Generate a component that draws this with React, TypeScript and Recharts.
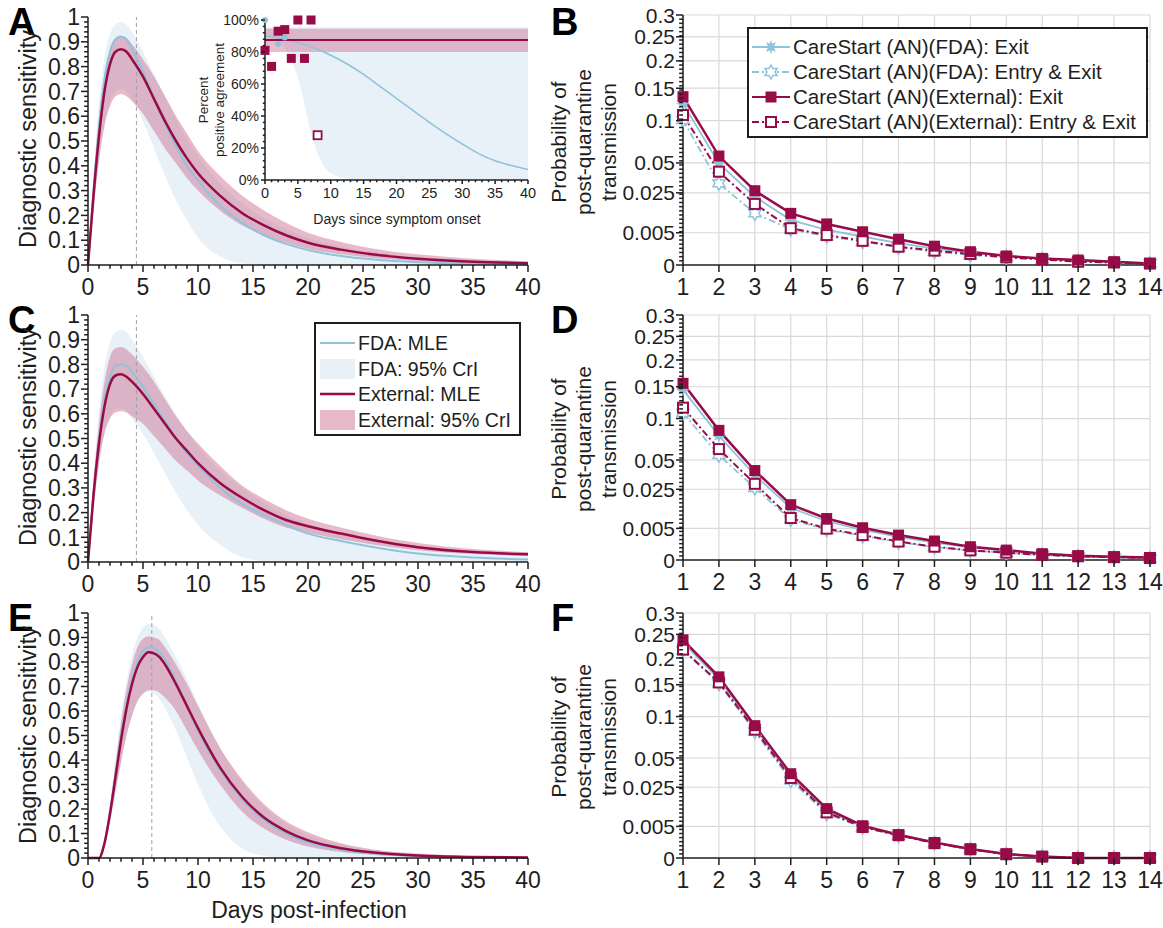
import React from 'react';
import { ComposedChart, LineChart, Line, Area, XAxis, YAxis, CartesianGrid, ReferenceLine } from 'recharts';

const FONT = '"Liberation Sans", Arial, Helvetica, sans-serif';
const INK = '#1e1e1e';
const BLUE = '#8fc3db';
const RED = '#990b46';
const BLUE_FILL = '#bcd8ec';
const RED_FILL = '#cc6f91';
const GRID = '#d9d9d9';

// ---- sensitivity panels A / C (days post-infection) ----
const daysAC = [0, 0.5, 1, 1.5, 2, 2.5, 3, 3.5, 4, 5, 6, 7, 8, 9, 10, 12, 14, 16, 18, 20, 23, 26, 30, 35, 40];

const aFdaMle = [0, 0.3, 0.56, 0.75, 0.86, 0.91, 0.92, 0.91, 0.87, 0.78, 0.67, 0.57, 0.48, 0.4, 0.34, 0.24, 0.17, 0.12, 0.085, 0.06, 0.036, 0.022, 0.011, 0.005, 0.002];
const aFdaLo = [0, 0.22, 0.42, 0.57, 0.66, 0.7, 0.71, 0.7, 0.67, 0.58, 0.47, 0.36, 0.26, 0.18, 0.11, 0.035, 0.006, 0, 0, 0, 0, 0, 0, 0, 0];
const aFdaHi = [0, 0.36, 0.65, 0.84, 0.93, 0.97, 0.98, 0.97, 0.94, 0.86, 0.77, 0.68, 0.59, 0.51, 0.44, 0.33, 0.25, 0.19, 0.145, 0.11, 0.075, 0.052, 0.032, 0.018, 0.01];
const aExtMle = [0, 0.28, 0.52, 0.7, 0.81, 0.86, 0.87, 0.86, 0.83, 0.76, 0.67, 0.58, 0.5, 0.43, 0.37, 0.28, 0.21, 0.16, 0.12, 0.09, 0.062, 0.042, 0.025, 0.013, 0.007];
const aExtLo = [0, 0.22, 0.42, 0.56, 0.64, 0.68, 0.69, 0.68, 0.66, 0.61, 0.54, 0.47, 0.41, 0.35, 0.3, 0.22, 0.16, 0.12, 0.09, 0.065, 0.043, 0.028, 0.015, 0.007, 0.003];
const aExtHi = [0, 0.32, 0.59, 0.77, 0.87, 0.915, 0.925, 0.915, 0.89, 0.83, 0.76, 0.68, 0.6, 0.53, 0.46, 0.36, 0.28, 0.22, 0.17, 0.13, 0.093, 0.066, 0.043, 0.025, 0.015];

const cFdaMle = [0, 0.28, 0.5, 0.66, 0.75, 0.795, 0.8, 0.795, 0.77, 0.71, 0.64, 0.57, 0.5, 0.44, 0.39, 0.3, 0.235, 0.19, 0.15, 0.115, 0.085, 0.06, 0.034, 0.018, 0.01];
const cFdaLo = [0, 0.21, 0.39, 0.52, 0.59, 0.62, 0.62, 0.61, 0.58, 0.52, 0.44, 0.36, 0.28, 0.21, 0.15, 0.07, 0.02, 0.003, 0, 0, 0, 0, 0, 0, 0];
const cFdaHi = [0, 0.34, 0.61, 0.79, 0.89, 0.93, 0.94, 0.93, 0.9, 0.83, 0.75, 0.67, 0.6, 0.53, 0.47, 0.37, 0.3, 0.24, 0.19, 0.155, 0.115, 0.085, 0.058, 0.037, 0.027];
const cExtMle = [0, 0.27, 0.48, 0.63, 0.72, 0.755, 0.76, 0.75, 0.73, 0.68, 0.62, 0.56, 0.5, 0.45, 0.4, 0.32, 0.26, 0.21, 0.17, 0.145, 0.115, 0.088, 0.06, 0.04, 0.031];
const cExtLo = [0, 0.22, 0.4, 0.52, 0.58, 0.605, 0.61, 0.605, 0.59, 0.56, 0.51, 0.46, 0.41, 0.37, 0.33, 0.27, 0.22, 0.175, 0.14, 0.118, 0.092, 0.07, 0.048, 0.032, 0.024];
const cExtHi = [0, 0.32, 0.56, 0.73, 0.83, 0.865, 0.87, 0.86, 0.84, 0.79, 0.73, 0.66, 0.59, 0.53, 0.48, 0.39, 0.31, 0.255, 0.21, 0.175, 0.14, 0.108, 0.077, 0.053, 0.04];

// ---- sensitivity panel E ----
const daysE = [0, 0.5, 1, 1.5, 2, 2.5, 3, 3.5, 4, 4.5, 5, 5.5, 6, 6.5, 7, 8, 9, 10, 12, 14, 16, 18, 20, 23, 26, 30, 35, 40];
const eFdaMle = [0, 0, 0, 0.06, 0.19, 0.34, 0.5, 0.63, 0.73, 0.8, 0.845, 0.86, 0.855, 0.84, 0.81, 0.72, 0.62, 0.52, 0.36, 0.24, 0.155, 0.1, 0.064, 0.034, 0.018, 0.008, 0.003, 0.001];
const eFdaLo = [0, 0, 0, 0.05, 0.15, 0.27, 0.39, 0.5, 0.58, 0.64, 0.67, 0.68, 0.67, 0.65, 0.61, 0.52, 0.41, 0.3, 0.13, 0.04, 0.008, 0, 0, 0, 0, 0, 0, 0];
const eFdaHi = [0, 0, 0, 0.08, 0.23, 0.41, 0.58, 0.72, 0.83, 0.9, 0.94, 0.955, 0.95, 0.935, 0.9, 0.82, 0.73, 0.63, 0.45, 0.31, 0.21, 0.14, 0.095, 0.055, 0.03, 0.015, 0.006, 0.003];
const eExtMle = [0, 0, 0, 0.06, 0.18, 0.33, 0.48, 0.61, 0.71, 0.78, 0.82, 0.84, 0.835, 0.82, 0.79, 0.71, 0.62, 0.53, 0.37, 0.25, 0.165, 0.11, 0.072, 0.04, 0.022, 0.01, 0.004, 0.002];
const eExtLo = [0, 0, 0, 0.05, 0.15, 0.27, 0.39, 0.5, 0.58, 0.64, 0.67, 0.685, 0.685, 0.675, 0.655, 0.6, 0.52, 0.44, 0.3, 0.19, 0.12, 0.075, 0.047, 0.024, 0.012, 0.005, 0.002, 0.001];
const eExtHi = [0, 0, 0, 0.07, 0.21, 0.38, 0.55, 0.69, 0.79, 0.86, 0.895, 0.905, 0.9, 0.89, 0.86, 0.79, 0.71, 0.62, 0.45, 0.32, 0.22, 0.15, 0.105, 0.06, 0.035, 0.018, 0.008, 0.004];

// ---- inset of A (days since symptom onset) ----
const insetDays = [0, 2.5, 5, 7.5, 10, 12.5, 15, 17.5, 20, 22.5, 25, 27.5, 30, 32.5, 35, 37.5, 40];
const insetFdaMle = [0.9, 0.885, 0.86, 0.825, 0.78, 0.725, 0.66, 0.585, 0.51, 0.435, 0.36, 0.29, 0.225, 0.165, 0.12, 0.09, 0.065];
const insetFdaLo = [0.9, 0.85, 0.64, 0.22, 0.04, 0.008, 0, 0, 0, 0, 0, 0, 0, 0, 0, 0, 0];
const insetFdaHi = [0.955, 0.955, 0.955, 0.955, 0.955, 0.955, 0.955, 0.955, 0.955, 0.955, 0.955, 0.955, 0.955, 0.955, 0.955, 0.955, 0.955];
const insetExtMle = [0.875, 0.875, 0.875, 0.875, 0.875, 0.875, 0.875, 0.875, 0.875, 0.875, 0.875, 0.875, 0.875, 0.875, 0.875, 0.875, 0.875];
const insetExtLo = [0.8, 0.8, 0.8, 0.8, 0.8, 0.8, 0.8, 0.8, 0.8, 0.8, 0.8, 0.8, 0.8, 0.8, 0.8, 0.8, 0.8];
const insetExtHi = [0.945, 0.945, 0.945, 0.945, 0.945, 0.945, 0.945, 0.945, 0.945, 0.945, 0.945, 0.945, 0.945, 0.945, 0.945, 0.945, 0.945];
const insetExtPtDays = [0, 1, 2, 3, 4, 5, 6, 7];
const insetExtPtVals = [0.81, 0.71, 0.93, 0.94, 0.76, 1.0, 0.76, 1.0];
const insetOpenPtDays = [8];
const insetOpenPtVals = [0.28];
const insetFdaPtDays = [0, 2, 3];
const insetFdaPtVals = [1.0, 0.85, 0.89];

// ---- post-quarantine transmission panels B / D / F ----
const quarantineDays = [1, 2, 3, 4, 5, 6, 7, 8, 9, 10, 11, 12, 13, 14];

const bFdaExit = [0.125, 0.0496, 0.0224, 0.0097, 0.0059, 0.0039, 0.0023, 0.0013, 0.00073, 0.00039, 0.00019, 0.0001, 0.00004, 0.00001];
const bFdaEntryExit = [0.101, 0.032, 0.0128, 0.0061, 0.004, 0.0026, 0.0015, 0.00085, 0.00048, 0.00028, 0.00014, 0.00006, 0.00003, 0.00001];
const bExtExit = [0.136, 0.057, 0.0265, 0.0128, 0.0081, 0.0053, 0.0032, 0.0017, 0.00085, 0.00039, 0.00021, 0.00012, 0.00005, 0.00001];
const bExtEntryExit = [0.108, 0.0418, 0.0179, 0.0065, 0.0043, 0.0028, 0.0016, 0.00099, 0.00058, 0.00028, 0.00015, 0.00005, 0.00003, 0.00001];

const dFdaExit = [0.145, 0.077, 0.036, 0.0135, 0.0075, 0.0045, 0.0027, 0.0015, 0.0008, 0.00042, 0.0002, 0.0001, 0.00005, 0.00002];
const dFdaEntryExit = [0.108, 0.055, 0.026, 0.0082, 0.0046, 0.0029, 0.0016, 0.00085, 0.00045, 0.00025, 0.00012, 0.00006, 0.00003, 0.00001];
const dExtExit = [0.156, 0.084, 0.04, 0.0153, 0.0086, 0.0052, 0.0031, 0.0018, 0.00088, 0.00049, 0.0002, 0.00009, 0.00005, 0.00003];
const dExtEntryExit = [0.116, 0.0615, 0.029, 0.0088, 0.0049, 0.0031, 0.0017, 0.00088, 0.00046, 0.00027, 0.00013, 0.00007, 0.00004, 0.00002];

const fFdaExit = [0.232, 0.16, 0.085, 0.033, 0.011, 0.005, 0.0026, 0.0012, 0.0004, 0.00008, 0.00001, 0, 0, 0];
const fFdaEntryExit = [0.215, 0.152, 0.08, 0.03, 0.0098, 0.0047, 0.0025, 0.0011, 0.00038, 0.00007, 0.00001, 0, 0, 0];
const fExtExit = [0.238, 0.164, 0.0875, 0.0355, 0.0122, 0.0052, 0.0027, 0.0012, 0.0004, 0.00008, 0.00001, 0, 0, 0];
const fExtEntryExit = [0.217, 0.154, 0.0823, 0.032, 0.0104, 0.0048, 0.0026, 0.0011, 0.00038, 0.00007, 0.00001, 0, 0, 0];

// ---- ticks ----
const sensXMajor = [0, 5, 10, 15, 20, 25, 30, 35, 40];
const sensXLabels = ['0', '5', '10', '15', '20', '25', '30', '35', '40'];
const sensYMajor = [0, 0.1, 0.2, 0.3, 0.4, 0.5, 0.6, 0.7, 0.8, 0.9, 1];
const sensYLabels = ['0', '0.1', '0.2', '0.3', '0.4', '0.5', '0.6', '0.7', '0.8', '0.9', '1'];
const insetYMajor = [0, 0.2, 0.4, 0.6, 0.8, 1];
const insetYLabels = ['0%', '20%', '40%', '60%', '80%', '100%'];
const probYMajor = [0, 0.005, 0.025, 0.05, 0.1, 0.15, 0.2, 0.25, 0.3];
const probYLabels = ['0', '0.005', '0.025', '0.05', '0.1', '0.15', '0.2', '0.25', '0.3'];
const dayLabels = quarantineDays.map(String);

const steps = (n: number, step: number) => Array.from({ length: n + 1 }, (_, i) => +(i * step).toFixed(4));
const sensXTicks = steps(40, 1);
const sensYTicks = steps(50, 0.02);
const insetYTicks = steps(25, 0.04);
// minor ticks evenly spaced along the square-root axis
const probYTicks = Array.from(new Set([...probYMajor, ...steps(60, 1 / 60).map((t) => 0.3 * t * t)])).sort((a, b) => a - b);

const close = (a: number, b: number) => Math.abs(a - b) < 1e-9;

const bottomTick = (majors: number[], labels: string[], size: number, gap: number, len = 7) => (p: any) => {
  const idx = majors.findIndex((m) => close(m, p.payload.value));
  return (
    <g>
      <line x1={p.x} y1={p.y} x2={p.x} y2={p.y + (idx >= 0 ? len : len * 0.55)} stroke={INK} strokeWidth={1.5} />
      {idx >= 0 && (
        <text x={p.x} y={p.y + gap} textAnchor="middle" fontSize={size} fontFamily={FONT} fill={INK}>
          {labels[idx]}
        </text>
      )}
    </g>
  );
};

const leftTick = (majors: number[], labels: string[], size: number, gap: number, len = 7) => (p: any) => {
  const idx = majors.findIndex((m) => close(m, p.payload.value));
  return (
    <g>
      <line x1={p.x - (idx >= 0 ? len : len * 0.55)} y1={p.y} x2={p.x} y2={p.y} stroke={INK} strokeWidth={1.5} />
      {idx >= 0 && (
        <text x={p.x - gap} y={p.y} dy="0.36em" textAnchor="end" fontSize={size} fontFamily={FONT} fill={INK}>
          {labels[idx]}
        </text>
      )}
    </g>
  );
};

const starPoints = (cx: number, cy: number, n: number, ro: number, ri: number) =>
  Array.from({ length: n * 2 }, (_, i) => {
    const r = i % 2 === 0 ? ro : ri;
    const a = (Math.PI * i) / n - Math.PI / 2;
    return `${cx + r * Math.cos(a)},${cy + r * Math.sin(a)}`;
  }).join(' ');

function Marker({ kind, cx, cy }: { kind: string; cx: number; cy: number }) {
  if (kind === 'sq') return <rect x={cx - 5.5} y={cy - 5.5} width={11} height={11} fill={RED} />;
  if (kind === 'sqOpen')
    return <rect x={cx - 5} y={cy - 5} width={10} height={10} fill="#fff" stroke={RED} strokeWidth={2} />;
  if (kind === 'star') return <polygon points={starPoints(cx, cy, 8, 7, 3.5)} fill={BLUE} />;
  if (kind === 'starOpen')
    return <polygon points={starPoints(cx, cy, 6, 7, 4)} fill="#fff" stroke={BLUE} strokeWidth={1.5} />;
  if (kind === 'sqSmall') return <rect x={cx - 4.5} y={cy - 4.5} width={9} height={9} fill={RED} />;
  if (kind === 'sqSmallOpen')
    return <rect x={cx - 4} y={cy - 4} width={8} height={8} fill="#fff" stroke={RED} strokeWidth={1.8} />;
  return <circle cx={cx} cy={cy} r={3} fill={BLUE} />;
}

const dotOf = (kind: string) => (p: any) =>
  p.cx == null || p.cy == null || p.value == null ? (
    <g key={`n${p.index}`} />
  ) : (
    <Marker key={`m${p.index}`} kind={kind} cx={p.cx} cy={p.cy} />
  );

const axisStyle = { stroke: INK, strokeWidth: 1.5 };

type SensProps = {
  plotTop: number;
  plotH: number;
  days: number[];
  fdaMle: number[];
  fdaLo: number[];
  fdaHi: number[];
  extMle: number[];
  extLo: number[];
  extHi: number[];
  peak: number;
};

function SensPanel(props: SensProps) {
  const rows = props.days.map((d, i) => ({
    day: d,
    fdaMle: props.fdaMle[i],
    fdaBand: [props.fdaLo[i], props.fdaHi[i]],
    extMle: props.extMle[i],
    extBand: [props.extLo[i], props.extHi[i]],
  }));
  return (
    <div style={{ position: 'absolute', left: 0, top: props.plotTop - 17 }}>
      <ComposedChart width={545} height={props.plotH + 52} data={rows} margin={{ top: 17, right: 17, bottom: 0, left: 0 }}>
        <XAxis dataKey="day" type="number" domain={[0, 40]} ticks={sensXTicks} interval={0} height={35}
          tickSize={0} tickMargin={0} tickLine={false} axisLine={axisStyle} tick={bottomTick(sensXMajor, sensXLabels, 23, 30)} />
        <YAxis type="number" domain={[0, 1]} ticks={sensYTicks} interval={0} width={88}
          tickSize={0} tickMargin={0} tickLine={false} axisLine={axisStyle} tick={leftTick(sensYMajor, sensYLabels, 23, 8)} />
        <ReferenceLine x={props.peak} stroke="#a0a0a0" strokeDasharray="4 3" strokeWidth={1} />
        <Area type="monotone" dataKey="fdaBand" stroke="none" fill={BLUE_FILL} fillOpacity={0.35} isAnimationActive={false} />
        <Area type="monotone" dataKey="extBand" stroke="none" fill={RED_FILL} fillOpacity={0.48} isAnimationActive={false} />
        <Line type="monotone" dataKey="fdaMle" stroke={BLUE} strokeWidth={2} dot={false} isAnimationActive={false} />
        <Line type="monotone" dataKey="extMle" stroke={RED} strokeWidth={2.5} dot={false} isAnimationActive={false} />
      </ComposedChart>
    </div>
  );
}

function Inset() {
  const byDay = new Map<number, any>();
  const row = (d: number) => {
    if (!byDay.has(d)) byDay.set(d, { day: d });
    return byDay.get(d);
  };
  insetDays.forEach((d, i) => {
    Object.assign(row(d), {
      fdaMle: insetFdaMle[i],
      fdaBand: [insetFdaLo[i], insetFdaHi[i]],
      extMle: insetExtMle[i],
      extBand: [insetExtLo[i], insetExtHi[i]],
    });
  });
  insetExtPtDays.forEach((d, i) => (row(d).extPt = insetExtPtVals[i]));
  insetOpenPtDays.forEach((d, i) => (row(d).openPt = insetOpenPtVals[i]));
  insetFdaPtDays.forEach((d, i) => (row(d).fdaPt = insetFdaPtVals[i]));
  const rows = Array.from(byDay.values()).sort((a, b) => a.day - b.day);
  return (
    <div style={{ position: 'absolute', left: 195, top: 0 }}>
      <ComposedChart width={345} height={205} data={rows} margin={{ top: 20, right: 12, bottom: 0, left: 0 }}>
        <XAxis dataKey="day" type="number" domain={[0, 40]} ticks={sensXTicks} interval={0} height={25}
          tickSize={0} tickMargin={0} tickLine={false} axisLine={axisStyle} tick={bottomTick(sensXMajor, sensXLabels, 14.5, 18, 4)} />
        <YAxis type="number" domain={[0, 1]} ticks={insetYTicks} interval={0} width={70}
          tickSize={0} tickMargin={0} tickLine={false} axisLine={axisStyle} tick={leftTick(insetYMajor, insetYLabels, 14, 6, 4)} />
        <Area type="monotone" dataKey="fdaBand" stroke="none" fill={BLUE_FILL} fillOpacity={0.35} connectNulls isAnimationActive={false} />
        <Area type="monotone" dataKey="extBand" stroke="none" fill={RED_FILL} fillOpacity={0.45} connectNulls isAnimationActive={false} />
        <Line type="monotone" dataKey="fdaMle" stroke={BLUE} strokeWidth={1.6} dot={false} connectNulls isAnimationActive={false} />
        <Line type="monotone" dataKey="extMle" stroke={RED} strokeWidth={2} dot={false} connectNulls isAnimationActive={false} />
        <Line dataKey="fdaPt" stroke="none" dot={dotOf('dot')} isAnimationActive={false} />
        <Line dataKey="extPt" stroke="none" dot={dotOf('sqSmall')} isAnimationActive={false} />
        <Line dataKey="openPt" stroke="none" dot={dotOf('sqSmallOpen')} isAnimationActive={false} />
      </ComposedChart>
    </div>
  );
}

type ProbProps = {
  plotTop: number;
  plotH: number;
  fdaExit: number[];
  fdaEntryExit: number[];
  extExit: number[];
  extEntryExit: number[];
};

function ProbPanel(props: ProbProps) {
  const rows = quarantineDays.map((d, i) => ({
    day: d,
    fdaExit: props.fdaExit[i],
    fdaEntryExit: props.fdaEntryExit[i],
    extExit: props.extExit[i],
    extEntryExit: props.extEntryExit[i],
  }));
  return (
    <div style={{ position: 'absolute', left: 560, top: props.plotTop - 15 }}>
      <LineChart width={603} height={props.plotH + 50} data={rows} margin={{ top: 15, right: 13, bottom: 0, left: 0 }}>
        <CartesianGrid horizontal={false} stroke={GRID} strokeWidth={1.2} />
        {probYMajor.slice(1).map((v) => (
          <ReferenceLine key={v} y={v} stroke={GRID} strokeWidth={1.2} />
        ))}
        <XAxis dataKey="day" type="number" domain={[1, 14]} ticks={quarantineDays} interval={0} height={35}
          tickSize={0} tickMargin={0} tickLine={false} axisLine={axisStyle} tick={bottomTick(quarantineDays, dayLabels, 23, 30)} />
        <YAxis type="number" scale="sqrt" domain={[0, 0.3]} ticks={probYTicks} interval={0} width={123}
          tickSize={0} tickMargin={0} tickLine={false} axisLine={axisStyle} tick={leftTick(probYMajor, probYLabels, 21, 8)} />
        <Line dataKey="fdaEntryExit" stroke={BLUE} strokeWidth={1.8} strokeDasharray="7 3 2 3" dot={dotOf('starOpen')} isAnimationActive={false} />
        <Line dataKey="fdaExit" stroke={BLUE} strokeWidth={1.8} dot={dotOf('star')} isAnimationActive={false} />
        <Line dataKey="extEntryExit" stroke={RED} strokeWidth={2} strokeDasharray="7 3 2 3" dot={dotOf('sqOpen')} isAnimationActive={false} />
        <Line dataKey="extExit" stroke={RED} strokeWidth={2.5} dot={dotOf('sq')} isAnimationActive={false} />
      </LineChart>
    </div>
  );
}

const probLegend = [
  { label: 'CareStart (AN)(FDA): Exit', color: BLUE, dash: undefined, kind: 'star' },
  { label: 'CareStart (AN)(FDA): Entry & Exit', color: BLUE, dash: '7 3 2 3', kind: 'starOpen' },
  { label: 'CareStart (AN)(External): Exit', color: RED, dash: undefined, kind: 'sq' },
  { label: 'CareStart (AN)(External): Entry & Exit', color: RED, dash: '7 3 2 3', kind: 'sqOpen' },
];

function Overlay() {
  const txt = { fontFamily: FONT, fill: INK } as const;
  const letters = [
    ['A', 8, 35], ['C', 8, 333], ['E', 8, 631],
    ['B', 551, 35], ['D', 551, 333], ['F', 551, 631],
  ] as const;
  const sensCenters = [139, 437, 735];
  const probCenters = [142, 439, 737];
  return (
    <svg width={1163} height={928} style={{ position: 'absolute', left: 0, top: 0, pointerEvents: 'none' }}>
      {letters.map(([l, x, y]) => (
        <text key={l} x={x} y={y} fontSize={38} fontWeight="bold" {...txt} fill="#000">{l}</text>
      ))}
      {sensCenters.map((c) => (
        <text key={c} transform={`translate(36 ${c}) rotate(-90)`} textAnchor="middle" fontSize={23.5} {...txt}>
          Diagnostic sensitivity
        </text>
      ))}
      {probCenters.map((c) => (
        <g key={c}>
          <text transform={`translate(566 ${c}) rotate(-90)`} textAnchor="middle" fontSize={21} {...txt}>Probability of</text>
          <text transform={`translate(591 ${c}) rotate(-90)`} textAnchor="middle" fontSize={21} {...txt}>post-quarantine</text>
          <text transform={`translate(616 ${c}) rotate(-90)`} textAnchor="middle" fontSize={21} {...txt}>transmission</text>
        </g>
      ))}
      <text x={309} y={918} textAnchor="middle" fontSize={23} {...txt}>Days post-infection</text>

      {/* inset titles */}
      <text transform="translate(208 100) rotate(-90)" textAnchor="middle" fontSize={13.5} {...txt}>Percent</text>
      <text transform="translate(224 100) rotate(-90)" textAnchor="middle" fontSize={13.5} {...txt}>positive agreement</text>
      <text x={397} y={224} textAnchor="middle" fontSize={14} {...txt}>Days since symptom onset</text>

      {/* legend of B */}
      <rect x={748} y={28} width={399} height={109} fill="#fff" stroke={INK} strokeWidth={2} />
      {probLegend.map((e, i) => {
        const cy = 47 + i * 25;
        return (
          <g key={e.label}>
            <line x1={752} x2={790} y1={cy} y2={cy} stroke={e.color} strokeWidth={2} strokeDasharray={e.dash} />
            <Marker kind={e.kind} cx={771} cy={cy} />
            <text x={793} y={cy + 7} fontSize={20.5} {...txt}>{e.label}</text>
          </g>
        );
      })}

      {/* legend of C */}
      <rect x={315} y={323} width={205} height={112} fill="#fff" stroke={INK} strokeWidth={2} />
      <line x1={320} x2={355} y1={343} y2={343} stroke={BLUE} strokeWidth={2} />
      <text x={358} y={350} fontSize={19.5} {...txt}>FDA: MLE</text>
      <rect x={320} y={359} width={35} height={20} fill={BLUE_FILL} fillOpacity={0.35} />
      <text x={358} y={376} fontSize={19.5} {...txt}>FDA: 95% CrI</text>
      <line x1={320} x2={355} y1={394} y2={394} stroke={RED} strokeWidth={2.5} />
      <text x={358} y={401} fontSize={19.5} {...txt}>External: MLE</text>
      <rect x={320} y={410} width={35} height={20} fill={RED_FILL} fillOpacity={0.48} />
      <text x={358} y={427} fontSize={19.5} {...txt}>External: 95% CrI</text>
    </svg>
  );
}

export default function App() {
  return (
    <div style={{ position: 'absolute', left: 0, top: 0, width: 1163, height: 928, background: '#fff', fontFamily: FONT }}>
      <SensPanel plotTop={17} plotH={248} days={daysAC} fdaMle={aFdaMle} fdaLo={aFdaLo} fdaHi={aFdaHi}
        extMle={aExtMle} extLo={aExtLo} extHi={aExtHi} peak={4.4} />
      <Inset />
      <SensPanel plotTop={315} plotH={247} days={daysAC} fdaMle={cFdaMle} fdaLo={cFdaLo} fdaHi={cFdaHi}
        extMle={cExtMle} extLo={cExtLo} extHi={cExtHi} peak={4.4} />
      <SensPanel plotTop={613} plotH={245} days={daysE} fdaMle={eFdaMle} fdaLo={eFdaLo} fdaHi={eFdaHi}
        extMle={eExtMle} extLo={eExtLo} extHi={eExtHi} peak={5.8} />
      <ProbPanel plotTop={15} plotH={250} fdaExit={bFdaExit} fdaEntryExit={bFdaEntryExit} extExit={bExtExit} extEntryExit={bExtEntryExit} />
      <ProbPanel plotTop={315} plotH={245} fdaExit={dFdaExit} fdaEntryExit={dFdaEntryExit} extExit={dExtExit} extEntryExit={dExtEntryExit} />
      <ProbPanel plotTop={613} plotH={245} fdaExit={fFdaExit} fdaEntryExit={fFdaEntryExit} extExit={fExtExit} extEntryExit={fExtEntryExit} />
      <Overlay />
    </div>
  );
}
